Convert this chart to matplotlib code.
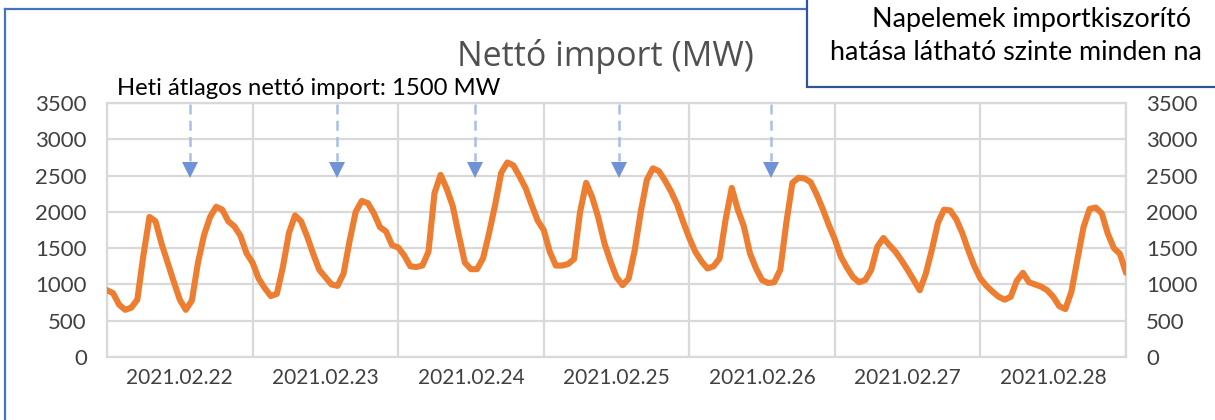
import numpy as np
import matplotlib.pyplot as plt
from matplotlib.patches import Rectangle
from matplotlib.lines import Line2D

# ------------------------------------------------------------------------------
# data : hourly net import (MW), 2021.02.22 - 2021.02.28
day_labels = ['2021.02.22', '2021.02.23', '2021.02.24', '2021.02.25',
              '2021.02.26', '2021.02.27', '2021.02.28']

mon = [920, 880, 720, 650, 680, 790, 1400, 1930, 1870, 1560, 1300, 1040,
       790, 650, 780, 1300, 1680, 1930, 2070, 2030, 1870, 1800, 1670, 1430]
tue = [1300, 1080, 950, 840, 870, 1240, 1710, 1950, 1870, 1660, 1420, 1200,
       1100, 1000, 980, 1150, 1600, 2000, 2150, 2120, 1980, 1790, 1730, 1540]
wed = [1510, 1400, 1250, 1240, 1260, 1450, 2260, 2510, 2320, 2080, 1680, 1300,
       1210, 1210, 1360, 1710, 2100, 2540, 2680, 2640, 2490, 2330, 2100, 1880]
thu = [1750, 1450, 1260, 1260, 1280, 1350, 2000, 2400, 2200, 1920, 1570, 1320,
       1100, 990, 1080, 1470, 2000, 2440, 2600, 2560, 2430, 2280, 2100, 1860]
fri = [1640, 1450, 1320, 1220, 1250, 1360, 1900, 2330, 2030, 1800, 1430, 1220,
       1060, 1020, 1030, 1200, 1850, 2400, 2470, 2460, 2410, 2240, 2040, 1820]
sat = [1620, 1380, 1230, 1100, 1030, 1060, 1200, 1520, 1640, 1540, 1450, 1330,
       1200, 1060, 920, 1150, 1480, 1850, 2030, 2020, 1900, 1710, 1470, 1250]
sun = [1080, 980, 900, 830, 790, 830, 1050, 1160, 1030, 1000, 970, 920,
       830, 700, 660, 900, 1350, 1790, 2040, 2060, 1980, 1700, 1500, 1420, 1160]

net_import = np.array(mon + tue + wed + thu + fri + sat + sun, dtype=float)
hours = np.arange(len(net_import)) / 24.0

# midday dips marked with arrows (day index + fraction of day)
arrow_x = [0.57, 1.58, 2.53, 3.52, 4.56]

y_ticks = [0, 500, 1000, 1500, 2000, 2500, 3000, 3500]

# ------------------------------------------------------------------------------
# drawing
W, H = 1215, 420
fig = plt.figure(figsize=(W / 100, H / 100), dpi=100)
fig.patch.set_facecolor('white')

ax = fig.add_axes([107 / W, 1 - 357 / H, (1126 - 107) / W, (357 - 103) / H])
ax.set_xlim(0, 7)
ax.set_ylim(0, 3500)

grid_c = '#d9d9d9'
ax.set_yticks(y_ticks)
ax.set_xticks(np.arange(0, 8))
ax.grid(True, color=grid_c, linewidth=1.6)
ax.set_axisbelow(True)
for s in ax.spines.values():
    s.set_color(grid_c)
    s.set_linewidth(1.6)

ax.tick_params(axis='both', length=0, colors='#404040', labelsize=16)
ax.tick_params(axis='y', labelright=True, pad=14.5)
ax.tick_params(axis='x', labelbottom=False)
for lab in ax.get_yticklabels():
    lab.set_fontfamily('Lato')

ax.set_xticks(np.arange(7) + 0.5, minor=True)
ax.set_xticklabels(day_labels, minor=True, fontfamily='Lato', fontsize=15,
                   color='#404040')
ax.tick_params(axis='x', which='minor', length=0, pad=8)

ax.plot(hours, net_import, color='#ed7d31', linewidth=4.4,
        solid_joinstyle='round', solid_capstyle='round', zorder=3)

for xa in arrow_x:
    ax.plot([xa, xa], [3480, 2700], color='#a9bfe8', linewidth=1.8,
            linestyle=(0, (4, 2.5)), zorder=2)
    ax.plot([xa], [2570], marker='v', markersize=12, color='#6f93d6',
            markeredgewidth=0, zorder=2)

# titles and notes
fig.text(605 / W, 1 - 56 / H, 'Nettó import (MW)', ha='center', va='center',
         fontsize=24.5, color='#505050', fontfamily='Open Sans')
fig.text(117 / W, 1 - 95 / H, 'Heti átlagos nettó import: 1500 MW',
         ha='left', va='baseline', fontsize=17.2, color='black',
         fontfamily='Lato')

# outer frame
frame_c = '#4472c4'
fig.add_artist(Line2D([5 / W, 5 / W], [0, 1 - 9 / H], color=frame_c,
                      linewidth=1.6))
fig.add_artist(Line2D([5 / W, 807 / W], [1 - 9 / H, 1 - 9 / H],
                      color=frame_c, linewidth=1.6))

# note box (cut by the right edge)
box = Rectangle((807 / W, 1 - 87 / H), 500 / W, 120 / H,
                transform=fig.transFigure, facecolor='white',
                edgecolor='#2f5597', linewidth=1.6, zorder=5)
fig.add_artist(box)
fig.text(1032 / W, 1 - 20 / H, 'Napelemek importkiszorító', ha='center',
         va='center', fontsize=19.4, color='black', fontfamily='Lato',
         zorder=6)
fig.text(830 / W, 1 - 53 / H, 'hatása látható szinte minden na', ha='left',
         va='center', fontsize=19.4, color='black', fontfamily='Lato',
         zorder=6)

fig.savefig('out.png', dpi=100)
